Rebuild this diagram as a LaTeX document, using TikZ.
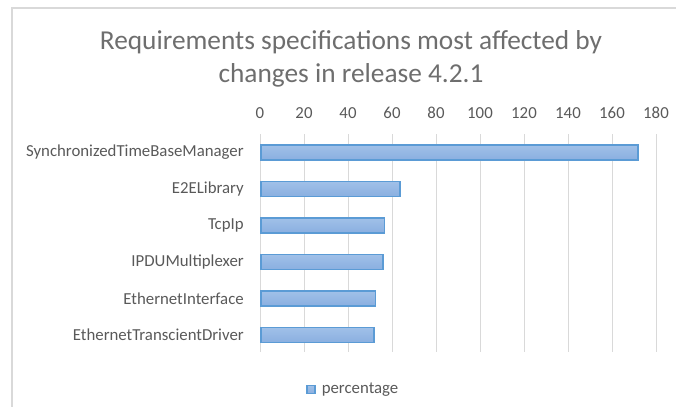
\documentclass[tikz,border=0pt]{standalone}
\usepackage{fontspec}
\setmainfont{Carlito}
\usetikzlibrary{positioning}
\definecolor{framegray}{RGB}{217,217,217}
\definecolor{gridgray}{RGB}{217,217,217}
\definecolor{txtgray}{RGB}{89,89,89}
\definecolor{titlegray}{RGB}{110,110,110}
\definecolor{barblue}{RGB}{91,155,213}
\definecolor{bartop}{RGB}{160,192,232}
\definecolor{barbot}{RGB}{138,175,224}
\begin{document}
\begin{tikzpicture}[x=0.75pt,y=-0.75pt,
    barstyle/.style={draw=barblue,line width=1.2pt,top color=bartop,bottom color=barbot,minimum height=11pt,inner sep=0pt,anchor=west},
    catstyle/.style={anchor=east,inner sep=0pt,text=txtgray,font=\fontsize{12.6}{15}\selectfont},
    tickstyle/.style={inner sep=0pt,text=txtgray,font=\fontsize{12.6}{15}\selectfont},
    gridstyle/.style={draw=gridgray,line width=0.75pt}]
\useasboundingbox (0,0) rectangle (676,407);
\draw[framegray,line width=1.2pt] (680,8) -- (12,8) -- (12,410);
\node[text=titlegray,align=center,font=\fontsize{20.5}{24.75}\selectfont](title) at (351,58.5){Requirements specifications most affected by\\changes in release 4.2.1};
% value axis
\node[tickstyle](T0) at (260,113){0};
\node[tickstyle](T20) at (304,113){20};
\node[tickstyle](T40) at (348,113){40};
\node[tickstyle](T60) at (392,113){60};
\node[tickstyle](T80) at (436,113){80};
\node[tickstyle](T100) at (480,113){100};
\node[tickstyle](T120) at (524,113){120};
\node[tickstyle](T140) at (568,113){140};
\node[tickstyle](T160) at (612,113){160};
\node[tickstyle](T180) at (656,113){180};
\draw[gridstyle] (260,134) -- (260,352);
\draw[gridstyle] (304,134) -- (304,352);
\draw[gridstyle] (348,134) -- (348,352);
\draw[gridstyle] (392,134) -- (392,352);
\draw[gridstyle] (436,134) -- (436,352);
\draw[gridstyle] (480,134) -- (480,352);
\draw[gridstyle] (524,134) -- (524,352);
\draw[gridstyle] (568,134) -- (568,352);
\draw[gridstyle] (612,134) -- (612,352);
\draw[gridstyle] (656,134) -- (656,352);
% categories
\node[catstyle](L1) at (244,152.5){SynchronizedTimeBaseManager};
\node[catstyle](L2) at (244,189){E2ELibrary};
\node[catstyle](L3) at (244,225.5){TcpIp};
\node[catstyle](L4) at (244,262){IPDUMultiplexer};
\node[catstyle](L5) at (244,298.5){EthernetInterface};
\node[catstyle](L6) at (244,335){EthernetTranscientDriver};
% bars, 2.2px per unit
\node[barstyle,minimum width=171.4*1.65pt](B1) at (260,152.5){};
\node[barstyle,minimum width=63.2*1.65pt](B2) at (260,189){};
\node[barstyle,minimum width=56.2*1.65pt](B3) at (260,225.5){};
\node[barstyle,minimum width=55.5*1.65pt](B4) at (260,262){};
\node[barstyle,minimum width=52.1*1.65pt](B5) at (260,298.5){};
\node[barstyle,minimum width=51.4*1.65pt](B6) at (260,335){};
% legend
\node[draw=barblue,line width=0.8pt,top color=bartop,bottom color=barbot,minimum size=6pt,inner sep=0pt](K) at (311,389.5){};
\node[tickstyle,anchor=west,right=4.5pt of K](Ktext){percentage};
\end{tikzpicture}
\end{document}
